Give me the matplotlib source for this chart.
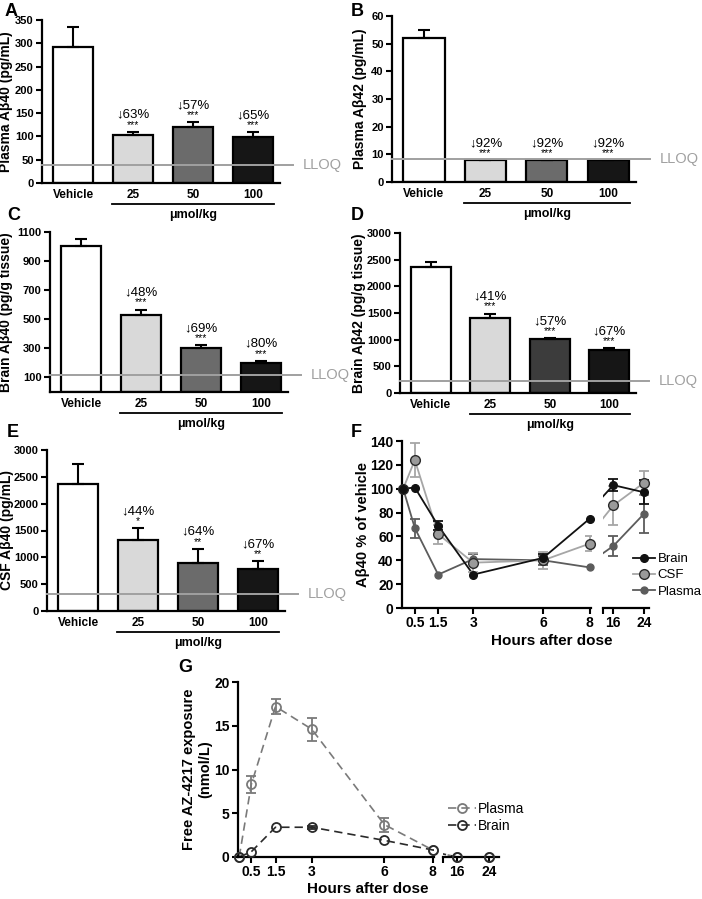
import numpy as np
import matplotlib
matplotlib.use("Agg")
import matplotlib.pyplot as plt
from matplotlib import transforms
from matplotlib.lines import Line2D

plt.rcParams['font.family'] = ['Liberation Sans', 'DejaVu Sans']

# ---- datos ----
bar_labels = ['Vehicle', '25', '50', '100']

plasma_ab40 = [291, 102, 120, 99]
plasma_ab40_err = [43, 8, 10, 10]
plasma_ab40_pct = ['', '↓63%', '↓57%', '↓65%']
plasma_ab40_sig = ['', '***', '***', '***']
plasma_ab40_lloq = 38

plasma_ab42 = [52, 8, 8, 8]
plasma_ab42_err = [3, 0, 0, 0]
plasma_ab42_pct = ['', '↓92%', '↓92%', '↓92%']
plasma_ab42_sig = ['', '***', '***', '***']
plasma_ab42_lloq = 8.2

brain_ab40 = [1005, 527, 305, 200]
brain_ab40_err = [45, 40, 15, 15]
brain_ab40_pct = ['', '↓48%', '↓69%', '↓80%']
brain_ab40_sig = ['', '***', '***', '***']
brain_ab40_lloq = 115

brain_ab42 = [2370, 1400, 1010, 800]
brain_ab42_err = [85, 90, 25, 40]
brain_ab42_pct = ['', '↓41%', '↓57%', '↓67%']
brain_ab42_sig = ['', '***', '***', '***']
brain_ab42_lloq = 220

csf_ab40 = [2370, 1330, 900, 790]
csf_ab40_err = [370, 210, 260, 140]
csf_ab40_pct = ['', '↓44%', '↓64%', '↓67%']
csf_ab40_sig = ['', '*', '**', '**']
csf_ab40_lloq = 320

hours = [0, 0.5, 1.5, 3, 6, 8, 16, 24]
brain_pct = [100, 101, 69, 28, 42, 75, 103, 97]
brain_pct_err = [0, 0, 4, 0, 3, 0, 5, 10]
csf_pct = [100, 124, 62, 38, 40, 54, 86, 105]
csf_pct_err = [0, 14, 8, 8, 7, 6, 16, 10]
plasma_pct = [100, 67, 28, 41, 40, 34, 52, 79]
plasma_pct_err = [0, 8, 0, 4, 4, 0, 8, 16]

free_plasma = [0, 8.3, 17.2, 14.6, 3.7, 0.8, 0, 0]
free_plasma_err = [0, 1.0, 0.9, 1.3, 0.8, 0, 0, 0]
free_brain = [0, 0.6, 3.4, 3.4, 1.9, 0.8, 0, 0]
free_brain_err = [0, 0, 0, 0.2, 0, 0, 0, 0]

# ---- figura ----
W, H = 702, 899
fig = plt.figure(figsize=(W / 100, H / 100), dpi=100)


def px_axes(l, t, r, b):
    return fig.add_axes([l / W, 1 - b / H, (r - l) / W, (b - t) / H])


def estilo_ejes(ax, tick_size):
    for s in ['top', 'right']:
        ax.spines[s].set_visible(False)
    for s in ['left', 'bottom']:
        ax.spines[s].set_linewidth(1.6)
    ax.tick_params(axis='both', direction='out', length=4, width=1.5,
                   labelsize=tick_size, pad=2)
    for lab in ax.get_xticklabels() + ax.get_yticklabels():
        lab.set_fontweight('bold')


bar_fills = ['white', '#d9d9d9', '#6b6b6b', '#161616']
XLIM = (-0.52, 3.45)


def panel_barras(box, vals, errs, sig, pct, lloq, ylim, yticks, ylabel,
                 label_right, fill50='#6b6b6b'):
    ax = px_axes(*box)
    x = np.arange(len(bar_labels))
    fills = list(bar_fills)
    fills[2] = fill50
    ax.bar(x, vals, width=0.67, color=fills, edgecolor='black', linewidth=1.6, zorder=2)
    ax.errorbar(x, vals, yerr=[np.zeros(len(x)), errs], fmt='none', ecolor='black',
                elinewidth=1.5, capsize=4.5, capthick=1.5, zorder=3)
    ax.set_xlim(*XLIM)
    ax.set_ylim(*ylim)
    ax.set_yticks(yticks)
    ax.set_xticks(x, bar_labels)
    estilo_ejes(ax, 8)
    ax.tick_params(axis='x', length=0, pad=4, labelsize=8.5)

    # LLOQ
    ax.plot([XLIM[0], XLIM[1] + 0.22], [lloq, lloq], color='#a0a0a0', lw=1.4,
            clip_on=False, zorder=4)
    ax.text(XLIM[1] + 0.38, lloq, 'LLOQ', color='#a0a0a0', fontsize=10.5,
            va='center', ha='left')

    # significancia y porcentaje
    for xi, v, e, s, p in zip(x, vals, errs, sig, pct):
        if s:
            ax.annotate(s, (xi, v + e), xytext=(0, 2), textcoords='offset pixels',
                        ha='center', va='bottom', fontsize=7.5)
        if p:
            ax.annotate(p, (xi, v + e), xytext=(0, 11), textcoords='offset pixels',
                        ha='center', va='bottom', fontsize=9.5)

    # umol/kg
    trans = transforms.blended_transform_factory(ax.transData, ax.transAxes)
    t_line = transforms.offset_copy(trans, fig=fig, y=-21, units='dots')
    ax.plot([x[1] - 0.35, x[3] + 0.35], [0, 0], color='black', lw=1.3,
            transform=t_line, clip_on=False)
    t_txt = transforms.offset_copy(trans, fig=fig, y=-32, units='dots')
    ax.text((x[1] + x[3]) / 2, 0, 'μmol/kg', transform=t_txt, ha='center',
            va='center', fontsize=9, fontweight='bold')

    ax.set_ylabel(ylabel, fontsize=10, fontweight='bold')
    l, t, r, b = box
    ax.yaxis.set_label_coords((label_right - l) / (r - l), 0.5)
    return ax


panel_barras((42, 20, 280, 183), plasma_ab40, plasma_ab40_err, plasma_ab40_sig,
             plasma_ab40_pct, plasma_ab40_lloq, (0, 350), np.arange(0, 351, 50),
             'Plasma Aβ40 (pg/mL)', 13)
panel_barras((392, 16, 636, 182), plasma_ab42, plasma_ab42_err, plasma_ab42_sig,
             plasma_ab42_pct, plasma_ab42_lloq, (0, 60), np.arange(0, 61, 10),
             'Plasma Aβ42 (pg/mL)', 367)
panel_barras((50, 232, 288, 392), brain_ab40, brain_ab40_err, brain_ab40_sig,
             brain_ab40_pct, brain_ab40_lloq, (0, 1100), np.arange(100, 1101, 200),
             'Brain Aβ40 (pg/g tissue)', 13)
panel_barras((400, 233, 636, 393), brain_ab42, brain_ab42_err, brain_ab42_sig,
             brain_ab42_pct, brain_ab42_lloq, (0, 3000), np.arange(0, 3001, 500),
             'Brain Aβ42 (pg/g tissue)', 366, fill50='#3c3c3c')
panel_barras((47, 450, 285, 611), csf_ab40, csf_ab40_err, csf_ab40_sig,
             csf_ab40_pct, csf_ab40_lloq, (0, 3000), np.arange(0, 3001, 500),
             'CSF Aβ40 (pg/mL)', 14)


# ---- paneles temporales con eje cortado ----
def serie(axes_pair, h, v, e, color, lw, ls, mk):
    h = np.array(h, dtype=float)
    v = np.array(v, dtype=float)
    e = np.array(e, dtype=float)
    for ax, mask in axes_pair:
        ax.plot(h, v, color=color, lw=lw, ls=ls, zorder=2)
        em = mask & (e > 0)
        ax.errorbar(h[em], v[em], yerr=e[em], fmt='none', ecolor=color,
                    elinewidth=1.3, capsize=3.5, capthick=1.3, zorder=3)
        ax.plot(h[mask], v[mask], ls='none', clip_on=False, zorder=4, **mk)


def ejes_cortados(box1, box2, xl1, xl2, ylim, yticks, tick_size):
    l1, t, r1, b = box1
    l2, _, r2, _ = box2
    ax1 = px_axes(l1, t, r1, b)
    ax2 = px_axes(l2, t, r2, b)
    ax1.set_xlim(*xl1)
    ax2.set_xlim(*xl2)
    for ax in (ax1, ax2):
        ax.set_ylim(*ylim)
    ax1.set_yticks(yticks)
    ax1.set_xticks([0.5, 1.5, 3, 6, 8], ['0.5', '1.5', '3', '6', '8'])
    ax2.set_xticks([xl2[0] + 0.05, 16, 24], ['', '16', '24'])
    estilo_ejes(ax1, tick_size)
    estilo_ejes(ax2, tick_size)
    ax2.spines['left'].set_visible(False)
    ax2.tick_params(axis='y', left=False, labelleft=False)
    return ax1, ax2


h = np.array(hours)
# F
axF1, axF2 = ejes_cortados((402, 441, 591, 608), (603, 441, 649, 608),
                           (-0.05, 8.05), (13.3, 25.3), (0, 140),
                           np.arange(0, 141, 20), 10)
pairF = [(axF1, h <= 8), (axF2, h >= 16)]
mk_brain = dict(marker='o', ms=5.5, mfc='#111111', mec='#111111')
mk_csf = dict(marker='o', ms=7, mfc='#9a9a9a', mec='#2a2a2a', mew=1.0)
mk_plasma = dict(marker='o', ms=5, mfc='#5c5c5c', mec='#5c5c5c')
serie(pairF, hours, plasma_pct, plasma_pct_err, '#5c5c5c', 1.3, '-', mk_plasma)
serie(pairF, hours, csf_pct, csf_pct_err, '#a6a6a6', 1.3, '-', mk_csf)
serie(pairF, hours, brain_pct, brain_pct_err, '#111111', 1.3, '-', mk_brain)
axF1.set_ylabel('Aβ40 % of vehicle', fontsize=10.5, fontweight='bold')
axF1.yaxis.set_label_coords((370 - 402) / (591 - 402), 0.5)
fig.text(552 / W, 1 - 641 / H, 'Hours after dose', ha='center', va='center',
         fontsize=11, fontweight='bold')
hF = [Line2D([], [], color='#111111', lw=1.3, **mk_brain),
      Line2D([], [], color='#a6a6a6', lw=1.3, **mk_csf),
      Line2D([], [], color='#5c5c5c', lw=1.3, **mk_plasma)]
fig.legend(hF, ['Brain', 'CSF', 'Plasma'], loc='upper left',
           bbox_to_anchor=(633 / W, 1 - 553 / H), frameon=False, fontsize=9.5,
           handlelength=1.7, handletextpad=0.15, labelspacing=0.3, borderpad=0,
           borderaxespad=0)

# G
axG1, axG2 = ejes_cortados((238, 682, 434, 857), (443, 682, 499, 857),
                           (-0.05, 8.05), (12.5, 26.5), (0, 20),
                           np.arange(0, 21, 5), 10)
pairG = [(axG1, h <= 8), (axG2, h >= 16)]
mk_gp = dict(marker='o', ms=6.5, mfc='none', mec='#7a7a7a', mew=1.3)
mk_gb = dict(marker='o', ms=6.5, mfc='none', mec='#2a2a2a', mew=1.3)
serie(pairG, hours, free_plasma, free_plasma_err, '#7a7a7a', 1.2, (0, (5, 3)), mk_gp)
serie(pairG, hours, free_brain, free_brain_err, '#2a2a2a', 1.2, (0, (5, 3)), mk_gb)
axG1.set_ylabel('Free AZ-4217 exposure\n(nmol/L)', fontsize=10.5, fontweight='bold',
                linespacing=1.2)
axG1.yaxis.set_label_coords((212 - 238) / (434 - 238), 0.5)
fig.text(368 / W, 1 - 889 / H, 'Hours after dose', ha='center', va='center',
         fontsize=11, fontweight='bold')
hG = [Line2D([], [], color='#7a7a7a', lw=1.2, ls=(0, (5, 3)), **mk_gp),
      Line2D([], [], color='#2a2a2a', lw=1.2, ls=(0, (5, 3)), **mk_gb)]
fig.legend(hG, ['Plasma', 'Brain'], loc='upper left',
           bbox_to_anchor=(448 / W, 1 - 802 / H), frameon=False, fontsize=10,
           handlelength=2.0, handletextpad=0.15, labelspacing=0.2, borderpad=0,
           borderaxespad=0)

# letras de panel
for letra, (px, py) in zip('ABCDEFG', [(5, 3), (351, 3), (7, 207), (351, 207),
                                       (7, 424), (351, 424), (178, 659)]):
    fig.text(px / W, 1 - py / H, letra, fontsize=13, fontweight='bold',
             ha='left', va='top')

fig.savefig('out.png', dpi=100)
